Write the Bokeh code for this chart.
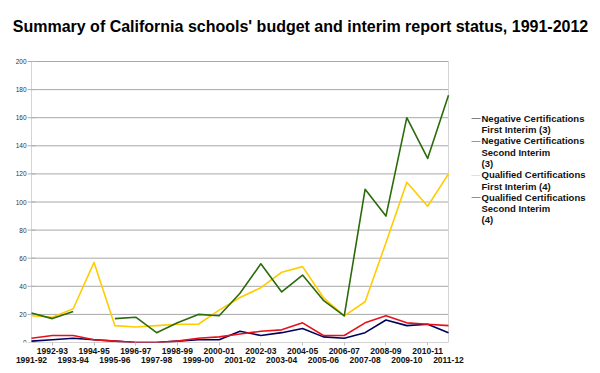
import math
from bokeh.plotting import figure
from bokeh.models import LinearAxis, FixedTicker, Range1d, Label
from bokeh.embed import file_html
from bokeh.resources import INLINE

years = ["1991-92", "1992-93", "1993-94", "1994-95", "1995-96", "1996-97", "1997-98",
         "1998-99", "1999-00", "2000-01", "2001-02", "2002-03", "2003-04", "2004-05",
         "2005-06", "2006-07", "2007-08", "2008-09", "2009-10", "2010-11", "2011-12"]
neg_first = [1, 2, 3, 2, 1, 0, 0, 1, 2, 2, 8, 5, 7, 10, 4, 3, 7, 16, 12, 13, 7]
neg_second = [3, 5, 5, 2, 1, 0, 0, 1, 3, 4, 6, 8, 9, 14, 5, 5, 14, 19, 14, 13, 12]
qual_first = [19, 18, 24, 57, 12, 11, 12, 13, 13, 23, 32, 39, 50, 54, 32, 19, 29, 71, 114, 97, 120]
qual_second = [21, 17, 22, math.nan, 17, 18, 7, 14, 20, 19, 35, 56, 36, 48, 30, 19, 109, 90, 160, 131, 176]
series_names = [["Negative Certifications", "First Interim (3)"],
                ["Negative Certifications", "Second Interim", "(3)"],
                ["Qualified Certifications", "First Interim (4)"],
                ["Qualified Certifications", "Second Interim", "(4)"]]
series_colors = ["#00005e", "#e8101a", "#ffcc00", "#2b6b0c"]
legend_colors = ["#101030", "#9a2010", "#ffcc22", "#204a18"]
yticks = list(range(0, 201, 20))
ytick_labels = [str(v) for v in yticks]
title_text = "Summary of California schools' budget and interim report status, 1991-2012"

W, H = 600, 373
plot_left, right_pad, bottom = 31, 8, 31
plot_w, plot_h = 417, 281          # size of the data area (px)
frame_w, frame_h = W - right_pad, H - bottom
n = len(years)
x = list(range(n))
px_per_x = plot_w / (n - 1)
x_start = -plot_left / px_per_x
x_end = x_start + frame_w / px_per_x
y_end = max(yticks) * frame_h / plot_h

p = figure(width=W, height=H, output_backend="svg", toolbar_location=None,
           x_range=Range1d(x_start, x_end), y_range=Range1d(0, y_end),
           x_axis_location=None, y_axis_location=None,
           min_border_left=0, min_border_right=right_pad, min_border_top=0,
           min_border_bottom=bottom)
p.background_fill_color = "white"
p.border_fill_color = "white"
p.outline_line_color = None
p.xgrid.grid_line_color = None
p.ygrid.grid_line_color = None

odd = [i for i in x if i % 2 == 1]
even = [i for i in x if i % 2 == 0]
for ticks, standoff, tick_out in ((odd, 2, 3), (even, 0, 0)):
    ax = LinearAxis(ticker=FixedTicker(ticks=ticks),
                    major_label_overrides={i: years[i] for i in ticks})
    ax.major_label_text_font = "Liberation Sans"
    ax.major_label_text_font_style = "bold"
    ax.major_label_text_font_size = "8.5px"
    ax.major_label_text_color = "#111111"
    ax.major_label_standoff = standoff
    ax.major_tick_out = tick_out
    ax.major_tick_in = 0
    ax.minor_tick_out = 0
    ax.minor_tick_in = 0
    ax.major_tick_line_color = "#c0c0c0"
    ax.axis_line_color = None
    p.add_layout(ax, "below")

# grid lines and plot-area edges, limited to the data area
p.segment(x0=[0] * len(yticks), x1=[n - 1] * len(yticks), y0=yticks, y1=yticks,
          line_color="#a8a8a8", line_width=1)
p.segment(x0=[0, n - 1], x1=[0, n - 1], y0=[0, 0], y1=[max(yticks)] * 2,
          line_color="#d4d4d4", line_width=1)

# y axis ticks and labels
p.scatter(x=[0] * len(yticks), y=yticks, marker="dash", size=8, line_color="#b0b0b0",
          line_width=1)
p.text(x=[0] * len(yticks), y=yticks, text=ytick_labels, x_offset=-5,
       text_align="right", text_baseline="middle", text_font_size="6.5px",
       text_color="#333333", text_font={"value": "Liberation Sans"})

for vals, col in zip([neg_first, neg_second, qual_first, qual_second], series_colors):
    p.line(x, vals, line_color=col, line_width=1.6, line_join="round")

# title (screen units relative to the frame's bottom-left)
p.add_layout(Label(x=300, y=frame_h - 26, x_units="screen", y_units="screen",
                   text=title_text, text_font="Liberation Sans", text_font_style="bold",
                   text_font_size="16px", text_align="center", text_baseline="alphabetic",
                   text_color="#000000"))

# legend
ly = frame_h - 117.7
line_h = 11.3
for names, col in zip(series_names, legend_colors):
    p.add_layout(Label(x=471, y=ly, x_units="screen", y_units="screen", text="\u2014",
                       text_font="Liberation Sans", text_font_size="9px",
                       text_align="left", text_baseline="middle", text_color=col))
    for t in names:
        p.add_layout(Label(x=481, y=ly, x_units="screen", y_units="screen", text=t,
                           text_font="Liberation Sans", text_font_style="bold",
                           text_font_size="9.5px", text_align="left",
                           text_baseline="middle", text_color="#111111"))
        ly -= line_h

open("out.html", "w").write(file_html(p, INLINE))
